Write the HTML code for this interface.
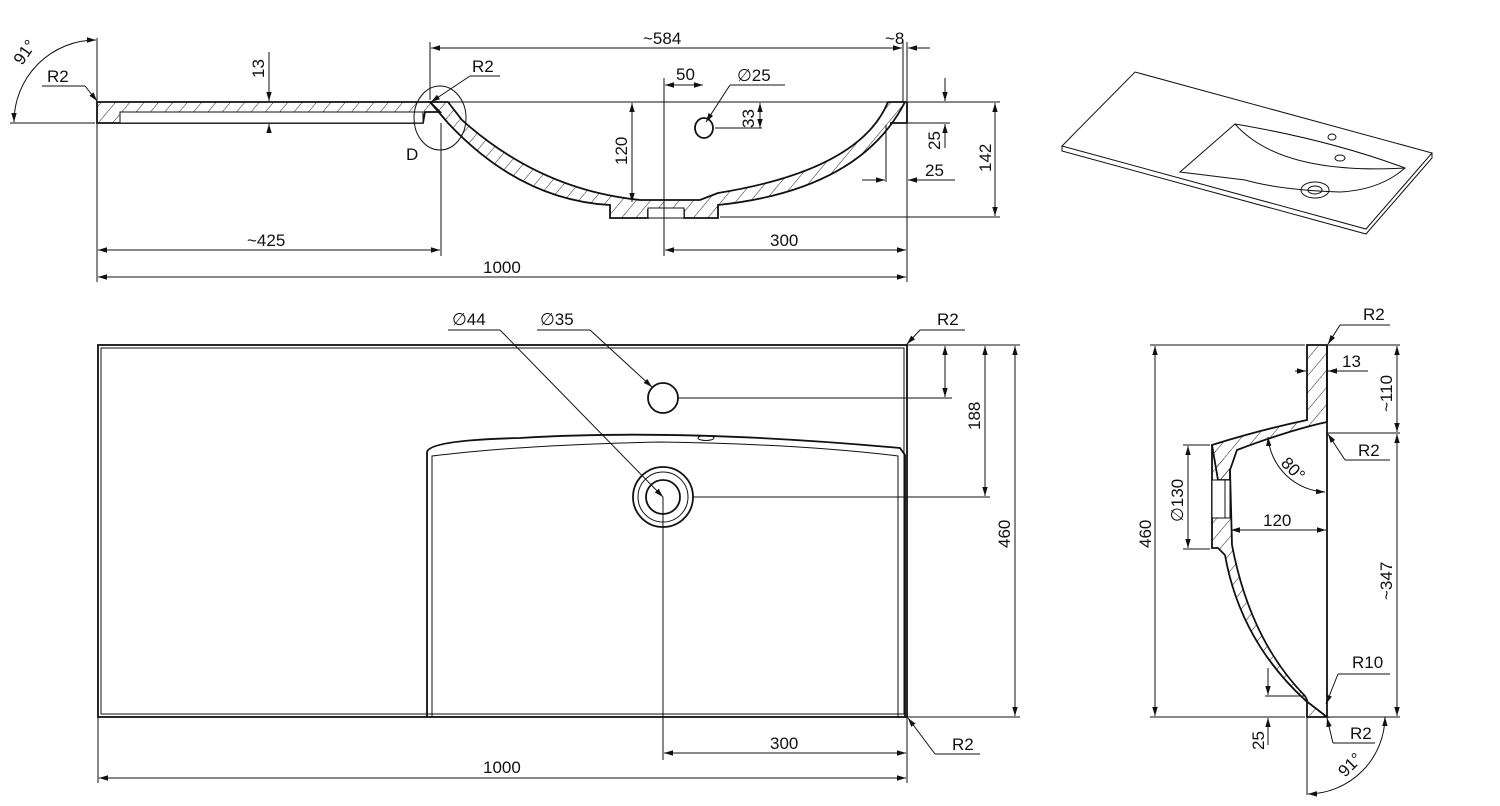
<!DOCTYPE html>
<html><head><meta charset="utf-8"><style>
html,body{margin:0;padding:0;background:#fff}
svg{display:block}
text{font-family:"Liberation Sans",sans-serif;font-size:17px;fill:#111}
.l{stroke:#111;stroke-width:1;fill:none}
.t{stroke:#111;stroke-width:1.8;fill:none}
</style></head><body>
<svg width="1500" height="806" viewBox="0 0 1500 806" xmlns="http://www.w3.org/2000/svg">
<defs>
<marker id="a" viewBox="0 0 10 10" refX="10" refY="5" markerWidth="9" markerHeight="9" orient="auto-start-reverse"><path d="M0,2 L10,5 L0,8z" fill="#111"/></marker>
<pattern id="hp" width="11" height="11" patternUnits="userSpaceOnUse" patternTransform="rotate(40)"><line x1="0" y1="0" x2="0" y2="11" stroke="#222" stroke-width="1"/></pattern>
</defs>

<!-- ===== TOP SECTION VIEW ===== -->
<path d="M97,102 L430,102 L440,112 L425,112 L423,123 L97,123 Z" class="t" style="fill:url(#hp)"/>
<path d="M120,112 L423,112 L423,123 L120,123 Z" class="l" style="fill:#fff"/>
<path d="M430,102 L448,123 Q520,200 610,205 L610,218 L648,218 L648,210 L684,210 L684,218 L718,218 L718,205 Q860,190 905,102 L888,102 Q860,170 718,193 L700,200 L640,200 Q540,190 462,120 L448,102 Z" class="t" style="fill:url(#hp)"/>
<rect x="648" y="208" width="36" height="10" class="l" style="fill:#fff"/>
<line x1="430" y1="102" x2="907" y2="102" class="l"/>
<line x1="890" y1="123" x2="907" y2="123" class="t"/>
<line x1="907" y1="102" x2="907" y2="123" class="t"/>
<ellipse cx="704" cy="128" rx="9" ry="10" class="t"/>
<ellipse cx="440" cy="118" rx="26" ry="32" class="l"/>
<text x="406" y="160">D</text>
<line x1="97" y1="38" x2="97" y2="282" class="l"/>
<line x1="441" y1="123" x2="441" y2="256" class="l"/>
<line x1="430" y1="42" x2="430" y2="100" class="l"/>
<line x1="903" y1="42" x2="903" y2="102" class="l"/>
<line x1="907" y1="42" x2="907" y2="282" class="l"/>
<line x1="664" y1="78" x2="664" y2="256" class="l"/>
<line x1="10" y1="123" x2="95" y2="123" class="l"/>
<line x1="98" y1="277" x2="906" y2="277" class="l" marker-start="url(#a)" marker-end="url(#a)"/>
<text x="483" y="273">1000</text>
<line x1="98" y1="250" x2="440" y2="250" class="l" marker-start="url(#a)" marker-end="url(#a)"/>
<text x="247" y="246">~425</text>
<line x1="665" y1="250" x2="906" y2="250" class="l" marker-start="url(#a)" marker-end="url(#a)"/>
<text x="770" y="246">300</text>
<line x1="431" y1="48" x2="902" y2="48" class="l" marker-start="url(#a)" marker-end="url(#a)"/>
<text x="643" y="44">~584</text>
<line x1="908" y1="48" x2="930" y2="48" class="l" marker-start="url(#a)"/>
<text x="885" y="44">~8</text>
<line x1="269" y1="52" x2="269" y2="101" class="l" marker-end="url(#a)"/>
<line x1="269" y1="133" x2="269" y2="124" class="l" marker-end="url(#a)"/>
<text transform="translate(264,78) rotate(-90)">13</text>
<line x1="632" y1="103" x2="632" y2="202" class="l" marker-start="url(#a)" marker-end="url(#a)"/>
<text transform="translate(627,165) rotate(-90)">120</text>
<line x1="665" y1="85" x2="703" y2="85" class="l" marker-start="url(#a)" marker-end="url(#a)"/>
<text x="676" y="80">50</text>
<line x1="730" y1="85" x2="785" y2="85" class="l"/>
<line x1="730" y1="85" x2="706" y2="122" class="l" marker-end="url(#a)"/>
<text x="737" y="81">∅25</text>
<line x1="760" y1="103" x2="760" y2="128" class="l" marker-start="url(#a)" marker-end="url(#a)"/>
<line x1="715" y1="128" x2="762" y2="128" class="l"/>
<text transform="translate(754,128) rotate(-90)">33</text>
<line x1="907" y1="102" x2="1000" y2="102" class="l"/>
<line x1="720" y1="217" x2="1000" y2="217" class="l"/>
<line x1="995" y1="103" x2="995" y2="216" class="l" marker-start="url(#a)" marker-end="url(#a)"/>
<text transform="translate(991,172) rotate(-90)">142</text>
<line x1="907" y1="123" x2="950" y2="123" class="l"/>
<line x1="945" y1="78" x2="945" y2="101" class="l" marker-end="url(#a)"/>
<line x1="945" y1="148" x2="945" y2="124" class="l" marker-end="url(#a)"/>
<text transform="translate(940,150) rotate(-90)">25</text>
<line x1="886" y1="125" x2="886" y2="182" class="l"/>
<line x1="862" y1="180" x2="885" y2="180" class="l" marker-end="url(#a)"/>
<line x1="955" y1="180" x2="908" y2="180" class="l" marker-end="url(#a)"/>
<text x="925" y="176">25</text>
<line x1="42" y1="86" x2="85" y2="86" class="l"/><line x1="85" y1="86" x2="97" y2="101" class="l" marker-end="url(#a)"/>
<text x="47" y="82">R2</text>
<line x1="470" y1="76" x2="500" y2="76" class="l"/><line x1="470" y1="76" x2="431" y2="102" class="l" marker-end="url(#a)"/>
<text x="472" y="72">R2</text>
<path d="M96,40 A82,82 0 0 0 14,122" class="l" marker-start="url(#a)" marker-end="url(#a)"/>
<text transform="translate(22,66) rotate(-55)">91°</text>

<!-- ===== 3D VIEW ===== -->
<path d="M1062,146 L1135,72 L1432,153 L1366,229 Z" class="l" stroke-width="1.5"/>
<path d="M1062,146 L1062,151 L1366,234 L1432,158 L1432,153" class="l" stroke-width="1.5"/>
<path d="M1180,172 L1235,124 Q1330,140 1405,168 Q1380,190 1340,192 Q1280,190 1245,180 Z" class="l" stroke-width="1.3"/>
<path d="M1235,124 Q1280,175 1405,168" class="l"/>
<ellipse cx="1315" cy="190" rx="14" ry="8" class="l" stroke-width="1.5"/>
<ellipse cx="1315" cy="190" rx="7" ry="4" class="l"/>
<ellipse cx="1340" cy="158" rx="5" ry="3" class="l"/>
<ellipse cx="1332" cy="137" rx="4" ry="3" class="l"/>

<!-- ===== PLAN VIEW ===== -->
<rect x="98" y="345" width="809" height="372" class="t"/>
<rect x="101" y="348" width="803" height="366" class="l"/>
<path d="M427,717 L427,452 Q430,440 520,438 Q680,428 900,448 L905,455 L905,717" class="t"/>
<path d="M432,717 L432,456 Q520,445 660,442 Q800,444 898,456 L898,717" class="l"/>
<ellipse cx="706" cy="438" rx="8" ry="2.5" class="l"/>
<circle cx="663" cy="398" r="15" class="t"/>
<circle cx="663" cy="497" r="30" class="t"/>
<circle cx="663" cy="497" r="25" class="l"/>
<circle cx="663" cy="497" r="17" class="t"/>
<line x1="663" y1="497" x2="663" y2="760" class="l"/>
<line x1="907" y1="717" x2="907" y2="783" class="l"/>
<line x1="98" y1="717" x2="98" y2="783" class="l"/>
<line x1="99" y1="778" x2="906" y2="778" class="l" marker-start="url(#a)" marker-end="url(#a)"/>
<text x="483" y="773">1000</text>
<line x1="664" y1="753" x2="906" y2="753" class="l" marker-start="url(#a)" marker-end="url(#a)"/>
<text x="770" y="749">300</text>
<line x1="678" y1="398" x2="952" y2="398" class="l"/>
<line x1="693" y1="497" x2="990" y2="497" class="l"/>
<line x1="907" y1="345" x2="1020" y2="345" class="l"/>
<line x1="907" y1="717" x2="1020" y2="717" class="l"/>
<line x1="945" y1="346" x2="945" y2="397" class="l" marker-start="url(#a)" marker-end="url(#a)"/>
<line x1="985" y1="346" x2="985" y2="496" class="l" marker-start="url(#a)" marker-end="url(#a)"/>
<text transform="translate(980,430) rotate(-90)">188</text>
<line x1="1015" y1="346" x2="1015" y2="716" class="l" marker-start="url(#a)" marker-end="url(#a)"/>
<text transform="translate(1010,548) rotate(-90)">460</text>
<line x1="448" y1="330" x2="500" y2="330" class="l"/><line x1="500" y1="330" x2="663" y2="497" class="l" marker-end="url(#a)"/>
<text x="452" y="325">∅44</text>
<line x1="537" y1="330" x2="590" y2="330" class="l"/><line x1="590" y1="330" x2="652" y2="387" class="l" marker-end="url(#a)"/>
<text x="540" y="325">∅35</text>
<line x1="920" y1="330" x2="965" y2="330" class="l"/><line x1="920" y1="330" x2="907" y2="344" class="l" marker-end="url(#a)"/>
<text x="937" y="325">R2</text>
<line x1="935" y1="754" x2="980" y2="754" class="l"/><line x1="935" y1="754" x2="908" y2="718" class="l" marker-end="url(#a)"/>
<text x="952" y="750">R2</text>

<!-- ===== SIDE VIEW ===== -->
<line x1="1327" y1="345" x2="1327" y2="717" class="t"/>
<path d="M1307,345 L1327,345 L1327,422 Q1290,430 1237,450 L1230,470 L1230,480 L1218,480 L1212,445 Q1260,430 1307,420 Z" class="t" style="fill:url(#hp)"/>
<path d="M1212,445 L1212,548 L1218,548 L1225,555 Q1240,640 1305,700 L1327,717 L1307,717 L1307,700 L1305,696 Q1250,640 1232,545 L1230,470" class="t" style="fill:url(#hp)"/>
<rect x="1212" y="480" width="18" height="38" class="l" style="fill:#fff"/>
<line x1="1225" y1="480" x2="1225" y2="518" class="l"/>
<line x1="1150" y1="345" x2="1305" y2="345" class="l"/>
<line x1="1150" y1="717" x2="1305" y2="717" class="l"/>
<line x1="1155" y1="346" x2="1155" y2="716" class="l" marker-start="url(#a)" marker-end="url(#a)"/>
<text transform="translate(1151,548) rotate(-90)">460</text>
<line x1="1327" y1="345" x2="1400" y2="345" class="l"/>
<line x1="1327" y1="433" x2="1400" y2="433" class="l"/>
<line x1="1327" y1="717" x2="1400" y2="717" class="l"/>
<line x1="1397" y1="346" x2="1397" y2="432" class="l" marker-start="url(#a)" marker-end="url(#a)"/>
<text transform="translate(1392,412) rotate(-90)">~110</text>
<line x1="1397" y1="434" x2="1397" y2="716" class="l" marker-start="url(#a)" marker-end="url(#a)"/>
<text transform="translate(1392,600) rotate(-90)">~347</text>
<line x1="1183" y1="445" x2="1210" y2="445" class="l"/>
<line x1="1183" y1="549" x2="1210" y2="549" class="l"/>
<line x1="1188" y1="446" x2="1188" y2="548" class="l" marker-start="url(#a)" marker-end="url(#a)"/>
<text transform="translate(1183,522) rotate(-90)">∅130</text>
<line x1="1231" y1="530" x2="1326" y2="530" class="l" marker-start="url(#a)" marker-end="url(#a)"/>
<text x="1263" y="526">120</text>
<path d="M1268,437 A60,60 0 0 0 1325,492" class="l" marker-start="url(#a)" marker-end="url(#a)"/>
<text transform="translate(1280,464) rotate(45)">80°</text>
<line x1="1295" y1="371" x2="1306" y2="371" class="l" marker-end="url(#a)"/>
<line x1="1368" y1="371" x2="1328" y2="371" class="l" marker-end="url(#a)"/>
<text x="1342" y="367">13</text>
<line x1="1340" y1="325" x2="1390" y2="325" class="l"/><line x1="1340" y1="325" x2="1328" y2="344" class="l" marker-end="url(#a)"/>
<text x="1363" y="320">R2</text>
<line x1="1345" y1="460" x2="1390" y2="460" class="l"/><line x1="1345" y1="460" x2="1328" y2="434" class="l" marker-end="url(#a)"/>
<text x="1358" y="456">R2</text>
<line x1="1338" y1="674" x2="1390" y2="674" class="l"/><line x1="1338" y1="674" x2="1326" y2="704" class="l" marker-end="url(#a)"/>
<text x="1352" y="668">R10</text>
<line x1="1333" y1="743" x2="1375" y2="743" class="l"/><line x1="1333" y1="743" x2="1327" y2="718" class="l" marker-end="url(#a)"/>
<text x="1350" y="739">R2</text>
<line x1="1265" y1="696" x2="1304" y2="696" class="l"/>
<line x1="1268" y1="668" x2="1268" y2="695" class="l" marker-end="url(#a)"/>
<line x1="1268" y1="745" x2="1268" y2="718" class="l" marker-end="url(#a)"/>
<text transform="translate(1264,750) rotate(-90)">25</text>
<line x1="1307" y1="717" x2="1307" y2="795" class="l"/>
<path d="M1385,717 A78,78 0 0 1 1308,794" class="l" marker-start="url(#a)" marker-end="url(#a)"/>
<text transform="translate(1345,778) rotate(-45)">91°</text>
</svg>
</body></html>
